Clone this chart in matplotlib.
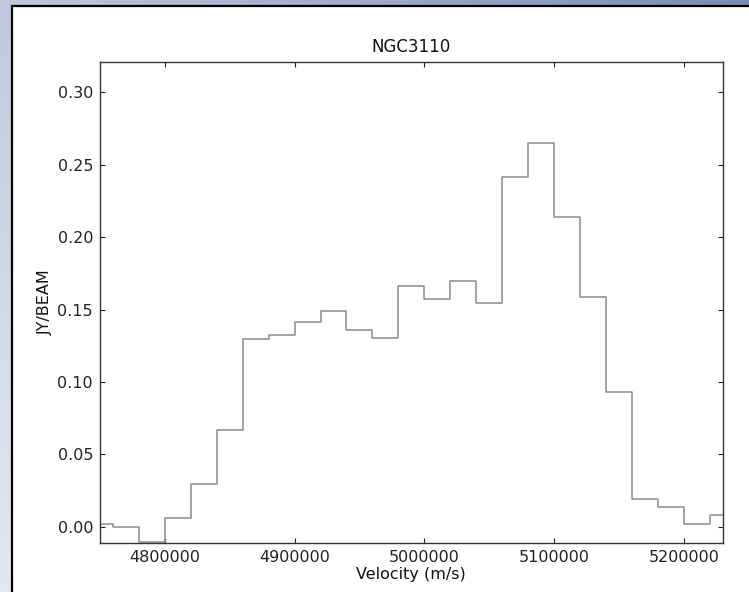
import numpy as np
import matplotlib
matplotlib.use('Agg')
import matplotlib.pyplot as plt
from matplotlib.patches import Rectangle

# spectrum of NGC3110: channel centres (m/s) and flux per channel (JY/BEAM)
velocity = [4750000, 4770000, 4790000, 4810000, 4830000, 4850000, 4870000,
            4890000, 4910000, 4930000, 4950000, 4970000, 4990000, 5010000,
            5030000, 5050000, 5070000, 5090000, 5110000, 5130000, 5150000,
            5170000, 5190000, 5210000, 5230000]
flux = [0.0021, -0.0002, -0.0106, 0.0058, 0.0293, 0.0668, 0.1294,
        0.1326, 0.1414, 0.1490, 0.1356, 0.1303, 0.1662, 0.1570,
        0.1697, 0.1545, 0.2413, 0.2652, 0.2141, 0.1584, 0.0930,
        0.0193, 0.0136, 0.0019, 0.0081]
y_ticks = [0.00, 0.05, 0.10, 0.15, 0.20, 0.25, 0.30]
x_ticks = [4800000, 4900000, 5000000, 5100000, 5200000]

W, H = 749, 592
fig = plt.figure(figsize=(W / 100, H / 100), dpi=100)

# window background: bluish gradient behind the canvas
bg = fig.add_axes([0, 0, 1, 1])
bg.set_axis_off()
top_left = np.array([192, 201, 221]) / 255
top_right = np.array([122, 140, 180]) / 255
bot_left = np.array([228, 232, 241]) / 255
bot_right = np.array([200, 208, 226]) / 255
u = np.linspace(0, 1, 64)[None, :, None]
v = np.linspace(0, 1, 64)[:, None, None]
grad = (top_left * (1 - u) + top_right * u) * (1 - v) + (bot_left * (1 - u) + bot_right * u) * v
bg.imshow(grad, aspect='auto', extent=[0, 1, 0, 1], interpolation='bilinear')
bg.set_xlim(0, 1)
bg.set_ylim(0, 1)

# white canvas with dark border
bg.add_patch(Rectangle((11.5 / W, -0.05), 1.1, (H - 5.5) / H + 0.05,
                       facecolor='white', edgecolor='black', linewidth=1.6,
                       transform=fig.transFigure))

ax = fig.add_axes([100 / W, (H - 542.7) / H, 622.7 / W, 480.7 / H])
ax.plot(velocity, flux, drawstyle='steps-mid', color='#8c8c8c', linewidth=1.1)
ax.set_xlim(velocity[0], velocity[-1])
ax.set_ylim(-0.011, 0.321)
ax.set_xticks(x_ticks)
ax.set_xticklabels([str(t) for t in x_ticks])
ax.set_yticks(y_ticks)
ax.set_yticklabels(['%.2f' % t for t in y_ticks])
ax.tick_params(direction='in', top=True, right=True, length=3.5, width=0.8,
               labelsize=11.5, pad=5, colors='#222222')
for s in ax.spines.values():
    s.set_color('#333333')
    s.set_linewidth(1.0)

ax.set_title('NGC3110', fontsize=12, pad=7, color='#111111')
ax.set_xlabel('Velocity (m/s)', fontsize=11.5, labelpad=2, color='#111111')
ax.set_ylabel('JY/BEAM', fontsize=11.5, labelpad=3, color='#111111')

fig.savefig('out.png', dpi=100)
